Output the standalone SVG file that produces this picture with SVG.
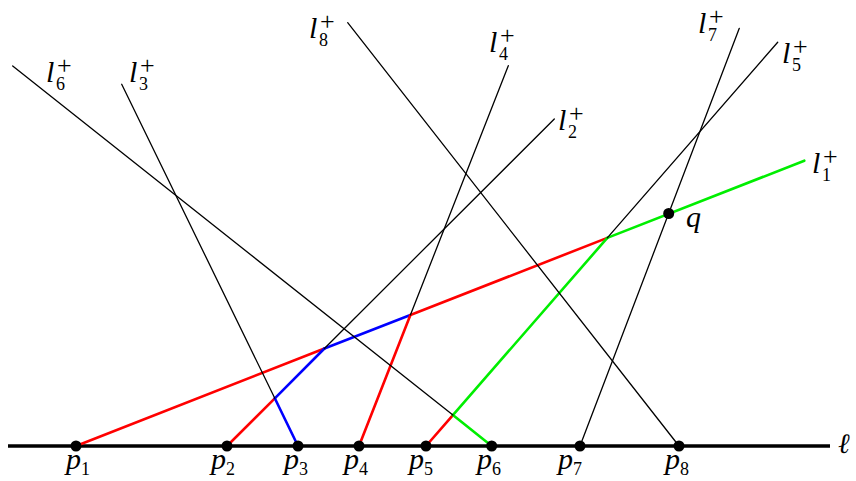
<svg xmlns="http://www.w3.org/2000/svg" width="856" height="481" viewBox="0 0 856 481">
<style>
.thin{stroke:#000;stroke-width:1.3;fill:none;stroke-linecap:round}
.red{stroke:#ff0000;stroke-width:2.6;fill:none;stroke-linecap:round}
.blue{stroke:#0000ff;stroke-width:2.6;fill:none;stroke-linecap:round}
.green{stroke:#00ee00;stroke-width:2.6;fill:none;stroke-linecap:round}
.base{stroke:#000;stroke-width:3.6;fill:none}
.dot{fill:#000}
</style>
<rect width="856" height="481" fill="#fff"/>
<g id="connectors">
  <line id="ell-line" class="base" x1="8" y1="446" x2="830" y2="446"/>
  <line class="red" x1="76" y1="446" x2="324.4" y2="348.5"/>
  <line class="blue" x1="324.4" y1="348.5" x2="410.4" y2="315"/>
  <line class="red" x1="410.4" y1="315" x2="607.3" y2="237.9"/>
  <line class="green" x1="607.3" y1="237.9" x2="804.3" y2="160.7"/>
  <line class="red" x1="227" y1="446" x2="274.8" y2="398.3"/>
  <line class="blue" x1="274.8" y1="398.3" x2="324.4" y2="348.5"/>
  <line class="thin" x1="324.4" y1="348.5" x2="554.3" y2="119"/>
  <line class="blue" x1="298" y1="446" x2="274.8" y2="398.3"/>
  <line class="thin" x1="274.8" y1="398.3" x2="121.7" y2="84.3"/>
  <line class="red" x1="359" y1="446" x2="410.4" y2="315"/>
  <line class="thin" x1="410.4" y1="315" x2="508.3" y2="65.7"/>
  <line class="red" x1="426" y1="446" x2="452.9" y2="415.1"/>
  <line class="green" x1="452.9" y1="415.1" x2="607.3" y2="237.9"/>
  <line class="thin" x1="607.3" y1="237.9" x2="777.7" y2="42.3"/>
  <line class="green" x1="491.7" y1="446" x2="452.9" y2="415.1"/>
  <line class="thin" x1="452.9" y1="415.1" x2="12.7" y2="66"/>
  <line class="thin" x1="580" y1="446" x2="739.3" y2="28.3"/>
  <line class="thin" x1="679" y1="446" x2="347.7" y2="22.7"/>
</g>
<g id="line-labels" font-family="Liberation Serif, Times New Roman, serif" fill="#000">
  <g font-style="italic" font-size="30">
    <text x="812" y="173">l</text>
    <text x="558" y="130">l</text>
    <text x="129" y="82">l</text>
    <text x="489" y="52">l</text>
    <text x="782" y="63">l</text>
    <text x="46" y="82">l</text>
    <text x="698" y="33">l</text>
    <text x="309" y="38">l</text>
  </g>
  <g font-size="18">
    <text x="822" y="181">1</text>
    <text x="568" y="138">2</text>
    <text x="139" y="90">3</text>
    <text x="499" y="60">4</text>
    <text x="792" y="71">5</text>
    <text x="56" y="90">6</text>
    <text x="708" y="41">7</text>
    <text x="319" y="46">8</text>
  </g>
  <g font-size="26">
    <text x="823" y="165">+</text>
    <text x="569" y="122">+</text>
    <text x="140" y="74">+</text>
    <text x="500" y="44">+</text>
    <text x="793" y="55">+</text>
    <text x="57" y="74">+</text>
    <text x="709" y="25">+</text>
    <text x="320" y="30">+</text>
  </g>
  <text x="838" y="453" font-family="DejaVu Serif, serif" font-style="italic" font-size="28">ℓ</text>
</g>
<g font-family="Liberation Serif, Times New Roman, serif" fill="#000">
<g id="p1"><circle class="dot" cx="76" cy="446" r="5.5"/><text x="66" y="469" font-style="italic" font-size="30">p</text><text x="81" y="475" font-size="18">1</text></g>
<g id="p2"><circle class="dot" cx="227" cy="446" r="5.5"/><text x="211" y="469" font-style="italic" font-size="30">p</text><text x="226" y="475" font-size="18">2</text></g>
<g id="p3"><circle class="dot" cx="298" cy="446" r="5.5"/><text x="284" y="469" font-style="italic" font-size="30">p</text><text x="299" y="475" font-size="18">3</text></g>
<g id="p4"><circle class="dot" cx="359" cy="446" r="5.5"/><text x="344" y="469" font-style="italic" font-size="30">p</text><text x="359" y="475" font-size="18">4</text></g>
<g id="p5"><circle class="dot" cx="426" cy="446" r="5.5"/><text x="409" y="469" font-style="italic" font-size="30">p</text><text x="424" y="475" font-size="18">5</text></g>
<g id="p6"><circle class="dot" cx="491.7" cy="446" r="5.5"/><text x="477" y="469" font-style="italic" font-size="30">p</text><text x="492" y="475" font-size="18">6</text></g>
<g id="p7"><circle class="dot" cx="580" cy="446" r="5.5"/><text x="558" y="469" font-style="italic" font-size="30">p</text><text x="573" y="475" font-size="18">7</text></g>
<g id="p8"><circle class="dot" cx="679" cy="446" r="5.5"/><text x="665" y="469" font-style="italic" font-size="30">p</text><text x="680" y="475" font-size="18">8</text></g>
<g id="q"><circle class="dot" cx="668.7" cy="213.5" r="5.5"/><text x="686" y="227" font-style="italic" font-size="30">q</text></g>
</g>
</svg>
